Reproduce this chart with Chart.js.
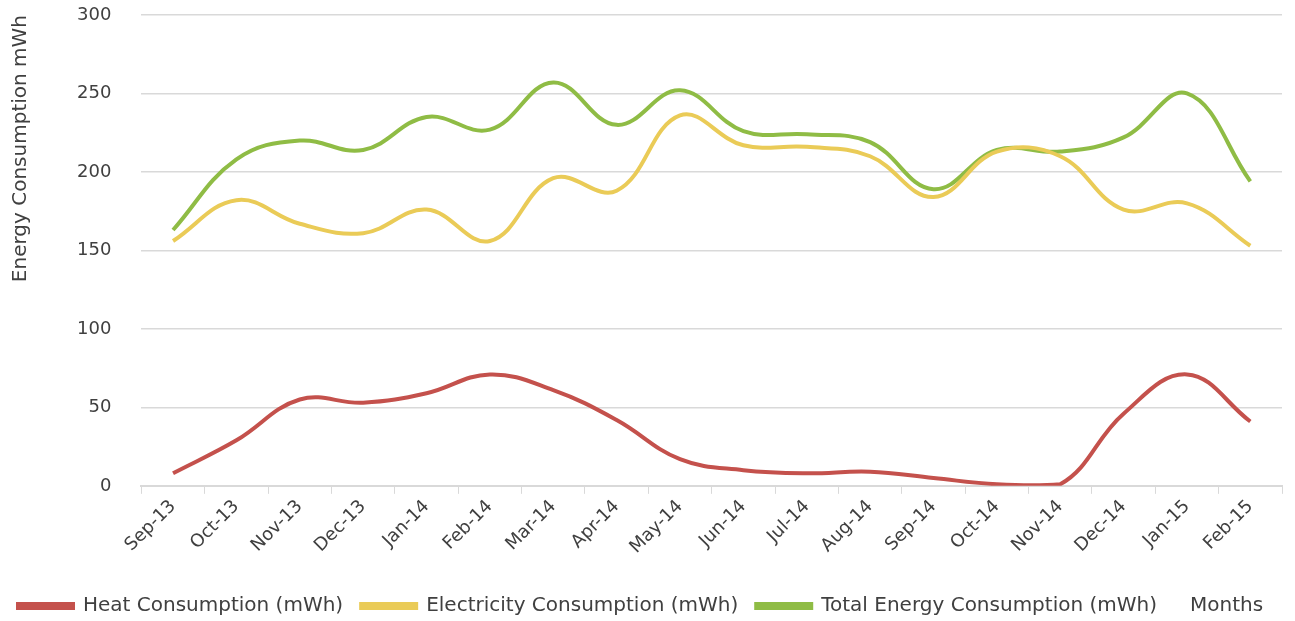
<!DOCTYPE html>
<html>
<head>
<meta charset="utf-8">
<script src="https://cdn.jsdelivr.net/npm/chart.js@4.4.1/dist/chart.umd.min.js"></script>
<style>
  html, body { margin: 0; padding: 0; background: #ffffff; }
  #wrap { width: 1295px; height: 621px; position: relative; }
</style>
</head>
<body>
<div id="wrap"><canvas id="energy_chart"></canvas></div>
<script>

// Monthly consumption

var months = ['Sep-13', 'Oct-13', 'Nov-13', 'Dec-13', 'Jan-14', 'Feb-14', 'Mar-14', 'Apr-14', 'May-14',
              'Jun-14', 'Jul-14', 'Aug-14', 'Sep-14', 'Oct-14', 'Nov-14', 'Dec-14', 'Jan-15', 'Feb-15'];

var heat        = [8, 29, 55, 53, 59, 71, 61, 42, 17, 10, 8, 9, 5, 1, 1, 46, 71, 41];
var electricity = [156, 182, 167, 161, 176, 156, 196, 188, 236, 217, 216, 210, 184, 213, 210, 176, 180, 153];
var total       = [163, 208, 220, 214, 235, 227, 257, 230, 252, 226, 224, 219, 189, 214, 213, 222, 250, 194];

var series_names = ['Heat Consumption (mWh)', 'Electricity Consumption (mWh)', 'Total Energy Consumption (mWh)'];
var series_colors = ['#C4514C', '#EACB57', '#8FBC45'];

var y_ticks = [0, 50, 100, 150, 200, 250, 300];


Chart.defaults.font.family = "'DejaVu Sans', sans-serif";
Chart.defaults.font.size = 18;
Chart.defaults.color = '#404040';


// "Months" sits on the legend row, at the right
var monthsLabel = {
    id: 'monthsLabel',
    afterDraw: function(chart) {
        var c = chart.ctx;
        var box = chart.legend.legendHitBoxes[0];
        c.save();
        c.font = "20px 'DejaVu Sans', sans-serif";
        c.fillStyle = '#404040';
        c.textAlign = 'left';
        c.textBaseline = 'middle';
        c.fillText('Months', 1190, box.top + box.height / 2);
        c.restore();
    }
};

var ctx = document.getElementById('energy_chart').getContext('2d');

var energy_chart = new Chart(ctx, {
    type: 'line',

    data: {
        labels: months,
        datasets: [heat, electricity, total].map(function(values, i) {
            return {
                label: series_names[i],
                data: values,
                borderColor: series_colors[i],
                backgroundColor: series_colors[i],
                borderWidth: 4,
                pointRadius: 0,
                tension: 0.4,
            };
        }),
    },

    options: {
        responsive: true,
        maintainAspectRatio: false,
        animation: false,

        layout: {
            padding: { left: 0, right: 13, top: 6, bottom: -5 },
        },

        scales: {
            x: {
                offset: true,
                grid: {
                    offset: true,
                    drawOnChartArea: false,
                    drawTicks: true,
                    tickLength: 8,
                    color: '#D9D9D9',
                },
                border: { color: '#D9D9D9', width: 2 },
                ticks: {
                    maxRotation: 45,
                    minRotation: 45,
                    padding: 2,
                },
                afterFit: function(scale) {
                    scale.height += 18;     // room between month labels and legend
                },
            },
            y: {
                min: 0,
                max: 300,
                afterBuildTicks: function(axis) {
                    axis.ticks = y_ticks.map(function(v) { return { value: v }; });
                },
                afterFit: function(scale) {
                    // keep the wide tick gap from pushing the plot down
                    scale.paddingTop = 15;
                    scale.paddingBottom = 9;
                },
                grid: {
                    color: '#D9D9D9',
                    lineWidth: 1.5,
                    drawTicks: false,
                },
                border: { display: false },
                ticks: {
                    padding: 30,
                },
                title: {
                    display: true,
                    text: 'Energy Consumption mWh',
                    align: 'end',
                    font: { size: 20 },
                    padding: { top: 9, bottom: 14 },
                },
            },
        },

        plugins: {
            legend: {
                display: true,
                position: 'bottom',
                align: 'start',
                labels: {
                    boxWidth: 55,
                    boxHeight: 4,
                    padding: 18,
                    font: { size: 20 },
                },
            },
            tooltip: { enabled: false },
        },
    },

    plugins: [monthsLabel],
});

</script>
</body>
</html>
